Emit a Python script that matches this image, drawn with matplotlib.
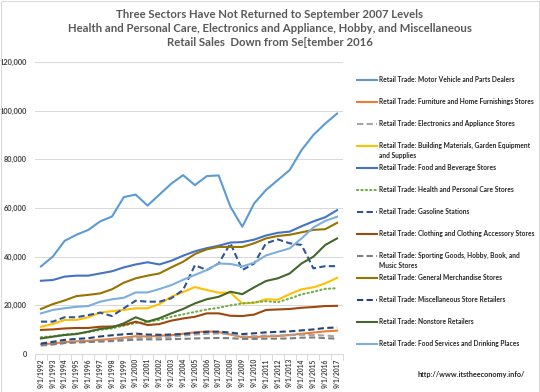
import matplotlib
matplotlib.use('Agg')
import matplotlib.pyplot as plt
from matplotlib.lines import Line2D
from matplotlib.patches import Rectangle
import numpy as np

plt.rcParams['font.family'] = ['Lato', 'DejaVu Sans']

# Categories (September of each year)
years = list(range(1992, 2018))
labels = ['9/1/%d' % y for y in years]

# Monthly retail sales, millions of dollars
motor_vehicle = [36000, 40000, 46500, 49000, 51000, 54500, 56500, 64500, 65500, 61000,
                 65500, 70000, 73500, 69400, 73100, 73400, 60500, 52300, 61900, 67400,
                 71500, 75600, 83800, 90000, 94700, 98800]
furniture = [4000, 4300, 4900, 5200, 5400, 5800, 6200, 6700, 7300, 7200,
             7500, 7700, 8300, 8900, 9300, 9000, 8000, 6900, 7000, 7200,
             7400, 7800, 8300, 8800, 9300, 9600]
electronics = [3400, 3900, 4500, 5000, 5100, 5300, 5700, 6300, 6800, 6700,
               6900, 7100, 7600, 8000, 8300, 8400, 8100, 7200, 7300, 7600,
               7600, 7700, 7900, 7800, 7600, 7200]
building = [11200, 12300, 14000, 14000, 15100, 17000, 17600, 18100, 18800, 18800,
            20500, 23500, 25500, 27500, 26300, 25200, 25200, 20800, 21000, 22500,
            22300, 24600, 26600, 27400, 29000, 31300]
food_bev = [30100, 30400, 31800, 32200, 32200, 33100, 34000, 35600, 36800, 37700,
            36800, 38300, 40400, 42200, 43500, 44500, 45800, 46000, 47000, 48700,
            49800, 50300, 52500, 54500, 56200, 59100]
health = [6900, 7300, 8000, 8400, 9000, 9900, 10500, 11700, 12700, 13200,
          14000, 15300, 16300, 17300, 18300, 19000, 20000, 20800, 21200, 21700,
          21300, 22800, 24500, 25600, 26800, 27000]
gasoline = [13300, 13300, 15100, 15100, 16000, 17000, 15600, 18800, 21900, 21500,
            21500, 22900, 26300, 36500, 34500, 37200, 45500, 34500, 37200, 45500,
            47100, 45500, 44800, 35200, 36100, 36100]
clothing = [9900, 10100, 10500, 10700, 10700, 11200, 11300, 11900, 13300, 11900,
            12300, 13700, 14600, 15300, 16700, 16700, 15700, 15600, 16200, 18100,
            18300, 18500, 19000, 19300, 19700, 19800]
sporting = [3700, 4000, 4500, 4700, 4900, 5100, 5300, 5600, 5900, 6000,
            6000, 6100, 6200, 6400, 6500, 6600, 6500, 6200, 6200, 6300,
            6300, 6400, 6700, 6800, 6500, 6300]
general = [18500, 20500, 22000, 23800, 24300, 24900, 26600, 29300, 31100, 32200,
           33100, 35600, 37900, 41100, 43000, 44000, 44000, 44000, 45500, 47500,
           48500, 49000, 50000, 51000, 51300, 53900]
misc = [4300, 5000, 5800, 6200, 6500, 7200, 7700, 8100, 8400, 8000,
        7900, 8000, 8200, 8700, 9100, 9200, 8800, 8200, 8500, 8900,
        9100, 9300, 9700, 10100, 10700, 10900]
nonstore = [6400, 7100, 7800, 8200, 9200, 10300, 10900, 12600, 15100, 13300,
            14700, 16700, 18500, 20800, 22500, 23500, 25600, 24600, 27400, 30000,
            31100, 33100, 37200, 40000, 44800, 47500]
food_serv = [16700, 18100, 18800, 19400, 19700, 21500, 22500, 23100, 25300, 25300,
             26700, 28300, 30500, 32500, 34500, 37200, 37000, 36000, 37500, 40500,
             42000, 43400, 47500, 52000, 54700, 56400]

series = [
    ('Retail Trade: Motor Vehicle and Parts Dealers', motor_vehicle, '#5B9BD5', '-'),
    ('Retail Trade: Furniture and Home Furnishings Stores', furniture, '#ED7D31', '-'),
    ('Retail Trade: Electronics and Appliance Stores', electronics, '#A5A5A5', 'dash'),
    ('Retail Trade: Building Materials, Garden Equipment\nand Supplies', building, '#FFC000', '-'),
    ('Retail Trade: Food and Beverage Stores', food_bev, '#4472C4', '-'),
    ('Retail Trade: Health and Personal Care Stores', health, '#70AD47', 'dot'),
    ('Retail Trade: Gasoline Stations', gasoline, '#2F5597', 'dash'),
    ('Retail Trade: Clothing and Clothing Accessory Stores', clothing, '#9E480E', '-'),
    ('Retail Trade: Sporting Goods, Hobby, Book, and\nMusic Stores', sporting, '#7F7F7F', 'dash'),
    ('Retail Trade: General Merchandise Stores', general, '#997300', '-'),
    ('Retail Trade: Miscellaneous Store Retailers', misc, '#264478', 'dash'),
    ('Retail Trade: Nonstore Retailers', nonstore, '#43682B', '-'),
    ('Retail Trade: Food Services and Drinking Places', food_serv, '#7CAFDD', '-'),
]

W, H = 540, 392
fig = plt.figure(figsize=(W / 100, H / 100), dpi=100)
ax = fig.add_axes([35 / W, (H - 354) / H, (343 - 35) / W, (354 - 62) / H])

x = np.arange(len(years))

def style_kw(ls):
    if ls == 'dash':
        return dict(linestyle=(0, (3, 1.6)))
    if ls == 'dot':
        return dict(linestyle=(0, (0.6, 1.5)), dash_capstyle='round')
    return dict(linestyle='-')

for name, vals, col, ls in series:
    ax.plot(x, vals, color=col, lw=1.5, **style_kw(ls))

ax.set_xlim(-0.5, len(years) - 0.5)
ax.set_ylim(0, 120000)
ax.set_yticks(np.arange(0, 120001, 20000))
ax.yaxis.set_major_formatter(matplotlib.ticker.FuncFormatter(lambda v, p: '{:,.0f}'.format(v)))
ax.grid(axis='y', color='#D9D9D9', lw=0.75)
ax.set_axisbelow(True)
ax.set_xticks(x)
ax.set_xticklabels(labels, rotation=90, fontsize=4.8, fontweight='bold', color='#404040')
ax.set_xticks(np.arange(-0.5, len(years), 1), minor=True)
ax.tick_params(axis='x', which='major', length=0, pad=3)
ax.tick_params(axis='x', which='minor', length=4, color='#D9D9D9', width=0.75)
ax.tick_params(axis='y', length=0, labelsize=5.3, labelcolor='#404040', pad=6)
for t in ax.get_yticklabels():
    t.set_fontweight('bold')
for s in ['top', 'right', 'left']:
    ax.spines[s].set_visible(False)
ax.spines['bottom'].set_color('#D9D9D9')
ax.spines['bottom'].set_linewidth(0.75)

# Title
fig.text(0.5, 1 - 9 / H, 'Three Sectors Have Not Returned to September 2007 Levels\n'
         'Health and Personal Care, Electronics and Appliance, Hobby, and Miscellaneous\n'
         'Retail Sales  Down from Se[tember 2016',
         ha='center', va='top', fontsize=8.2, fontweight='bold', color='#595959',
         linespacing=1.35)

# Legend drawn on the right
for i, (name, vals, col, ls) in enumerate(series):
    yp = 80 + 22 * i
    yf = 1 - yp / H
    fig.add_artist(Line2D([357 / W, 377 / W], [yf, yf], color=col, lw=1.5, **style_kw(ls)))
    fig.text(379 / W, 1 - (yp - 4) / H, name, ha='left', va='top', fontsize=4.8,
             fontweight='bold', color='#262626', linespacing=1.4)

fig.text(525 / W, 1 - 375 / H, 'http://www.itstheeconomy.info/', ha='right', va='center',
         fontsize=5.2, fontweight='bold', color='#262626')

fig.add_artist(Rectangle((0.5 / W, 0.5 / H), 1 - 1.5 / W, 1 - 1.5 / H, transform=fig.transFigure,
                         fill=False, edgecolor='#D9D9D9', lw=0.75))

fig.savefig('out.png', dpi=100)
